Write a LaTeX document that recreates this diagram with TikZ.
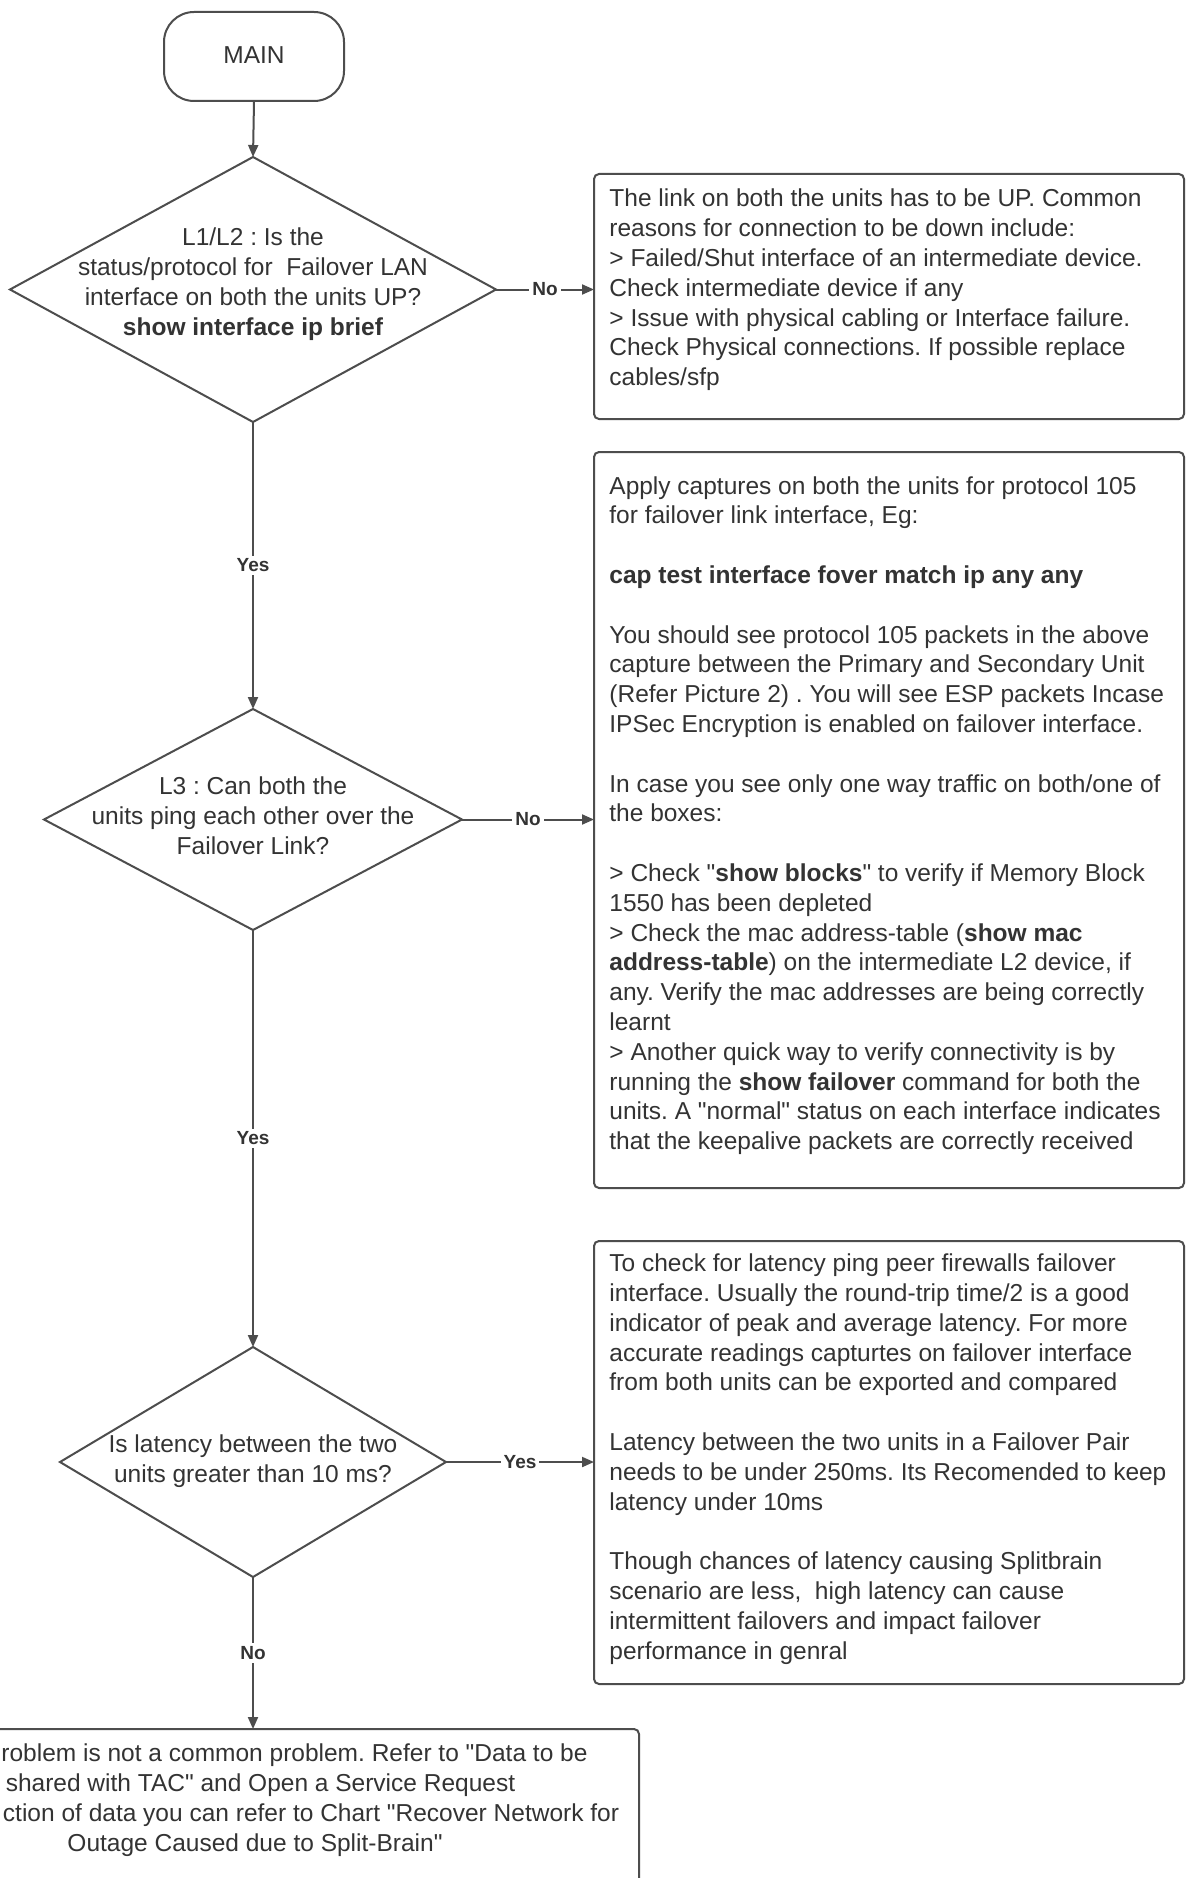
\documentclass[tikz,border=0pt]{standalone}
\usepackage{fontspec}
\setmainfont{Liberation Sans}[Ligatures=TeXOff]
\usetikzlibrary{shapes.geometric,arrows.meta}
\definecolor{ink}{HTML}{333333}
\definecolor{edge}{HTML}{4D4D4D}
\frenchspacing
\begin{document}
\frenchspacing
\begin{tikzpicture}[x=0.5pt,y=-0.5pt,
  base/.style={text=ink, font=\fontsize{12.25pt}{14.9pt}\selectfont},
  term/.style={draw=edge, line width=1pt, rounded corners=15pt, minimum width=90pt, minimum height=44.5pt, inner sep=0pt, base},
  dec/.style={draw=edge, line width=1pt, diamond, inner sep=0pt, outer sep=0pt},
  infobox/.style={draw=edge, line width=1pt, rounded corners=2.5pt, inner sep=0pt, outer sep=0pt},
  body/.style={base, inner sep=0pt, align=left, anchor=west},
  qtext/.style={base, inner sep=0pt, align=center},
  flow/.style={draw=edge, line width=1pt, -{Triangle[length=6pt,width=5pt]}},
  lbl/.style={fill=white, text=ink, inner sep=1.5pt, font=\fontsize{9.5pt}{11pt}\selectfont\bfseries},
]
\useasboundingbox (0,0) rectangle (1186,1878);
\clip (0,0) rectangle (1186,1878);
\fill[white] (0,0) rectangle (1186,1878);

% start
\node[term] (main) at (254,56.5) {\raisebox{1pt}{MAIN}};

% decision 1
\node[dec, minimum width=243pt, minimum height=132.5pt] (d1) at (253,289.5) {};
\node[qtext] (d1t) at (253,284) {L1/L2 : Is the\\status/protocol for \ Failover LAN\\interface on both the units UP?\\\textbf{show interface ip brief}};

\node[infobox, minimum width=295pt, minimum height=122.5pt] (b1) at (889,296.5) {};
\node[body] (b1t) at (609,290) {The link on both the units has to be UP. Common\\
reasons for connection to be down include:\\
> Failed/Shut interface of an intermediate device.\\
Check intermediate device if any\\
> Issue with physical cabling or Interface failure.\\
Check Physical connections. If possible replace\\
cables/sfp};

% decision 2
\node[dec, minimum width=209pt, minimum height=110.5pt] (d2) at (253,819.5) {};
\node[qtext] (d2t) at (253,816) {L3 : Can both the\\units ping each other over the\\Failover Link?};

\node[infobox, minimum width=295pt, minimum height=368pt] (b2) at (889,820) {};
\node[body] (b2t) at (609,815.5) {Apply captures on both the units for protocol 105\\
for failover link interface, Eg:\\[14.9pt]
\textbf{cap test interface fover match ip any any}\\[14.9pt]
You should see protocol 105 packets in the above\\
capture between the Primary and Secondary Unit\\
(Refer Picture 2) . You will see ESP packets Incase\\
IPSec Encryption is enabled on failover interface.\\[14.9pt]
In case you see only one way traffic on both/one of\\
the boxes:\\[14.9pt]
> Check "\textbf{show blocks}" to verify if Memory Block\\
1550 has been depleted\\
> Check the mac address-table (\textbf{show mac}\\
\textbf{address-table}) on the intermediate L2 device, if\\
any. Verify the mac addresses are being correctly\\
learnt\\
> Another quick way to verify connectivity is by\\
running the \textbf{show failover} command for both the\\
units. A "normal" status on each interface indicates\\
that the keepalive packets are correctly received};

% decision 3
\node[dec, minimum width=193pt, minimum height=115pt] (d3) at (253,1462) {};
\node[qtext] (d3t) at (253,1461) {Is latency between the two\\units greater than 10 ms?};

\node[infobox, minimum width=295pt, minimum height=221.5pt] (b3) at (889,1462.5) {};
\node[body] (b3t) at (609,1459) {To check for latency ping peer firewalls failover\\
interface. Usually the round-trip time/2 is a good\\
indicator of peak and average latency. For more\\
accurate readings capturtes on failover interface\\
from both units can be exported and compared\\[14.9pt]
Latency between the two units in a Failover Pair\\
needs to be under 250ms. Its Recomended to keep\\
latency under 10ms\\[14.9pt]
Though chances of latency causing Splitbrain\\
scenario are less, \ high latency can cause\\
intermittent failovers and impact failover\\
performance in genral};

% final box (partly outside the page)
\node[infobox, minimum width=386pt, minimum height=115.5pt] (b4) at (253,1844.5) {};
\node[qtext] (b4t) at (255,1800) {\hspace*{39.5pt}roblem is not a common problem. Refer to "Data to be\\
\hspace*{5.5pt}shared with TAC" and Open a Service Request\\
\hspace*{56pt}ction of data you can refer to Chart "Recover Network for\\
Outage Caused due to Split-Brain"};

% connectors
\draw[flow] (main.south) -- (d1.north);
\draw[flow] (d1.east) -- node[lbl] (l1) {No} (d1.east -| b1.west);
\draw[flow] (d1.south) -- node[lbl] (l2) {Yes} (d2.north);
\draw[flow] (d2.east) -- node[lbl] (l3) {No} (d2.east -| b2.west);
\draw[flow] (d2.south) -- node[lbl] (l4) {Yes} (d3.north);
\draw[flow] (d3.east) -- node[lbl] (l5) {Yes} (d3.east -| b3.west);
\draw[flow] (d3.south) -- node[lbl] (l6) {No} (b4.north);
\end{tikzpicture}
\end{document}
